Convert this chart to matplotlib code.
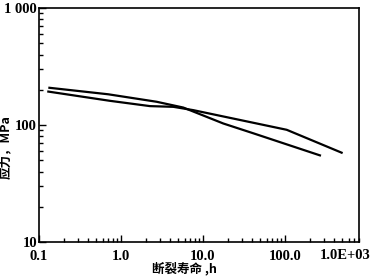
import matplotlib
matplotlib.use("Agg")
import matplotlib.pyplot as plt
from matplotlib.ticker import FixedLocator, LogLocator, NullFormatter

line1_x = [0.134, 0.70, 2.72, 5.75, 17.7, 41, 267]
line1_y = [208, 183, 158, 141, 103, 85, 55]
line2_x = [0.13, 0.73, 2.26, 4.35, 7.6, 105, 491]
line2_y = [193, 161, 145, 143, 134, 91, 58]

xticks = [0.1, 1, 10, 100]
xticklabels = ["0.1", "1.0", "10.0", "100.0"]
last_xtick = 1000
last_xticklabel = "1.0E+03"
yticks = [10, 100, 1000]
yticklabels = ["10", "100", "1 000"]

plt.rcParams['font.family'] = ['Liberation Serif', 'Noto Sans CJK SC']

fig = plt.figure(figsize=(3.7, 2.78), dpi=100)
ax = fig.add_axes([39/370, 36/278, 320/370, 234/278])
ax.plot(line1_x, line1_y, color='black', lw=1.6)
ax.plot(line2_x, line2_y, color='black', lw=1.6)
ax.set_xscale('log')
ax.set_yscale('log')
ax.set_xlim(0.1, 800)
ax.set_ylim(10, 1000)
ax.xaxis.set_major_locator(FixedLocator(xticks))
ax.set_xticklabels(xticklabels, fontsize=10.5, fontweight='bold')
ax.yaxis.set_major_locator(FixedLocator(yticks))
ax.set_yticklabels(yticklabels, fontsize=10.5, fontweight='bold')
ax.xaxis.set_minor_locator(LogLocator(base=10, subs=range(2, 10)))
ax.yaxis.set_minor_locator(LogLocator(base=10, subs=range(2, 10)))
ax.xaxis.set_minor_formatter(NullFormatter())
ax.yaxis.set_minor_formatter(NullFormatter())
ax.tick_params(which='both', direction='in', top=False, right=False, width=1)
ax.tick_params(which='major', length=5)
ax.tick_params(axis='x', which='major', pad=5.5)
ax.tick_params(axis='y', which='major', pad=1.5)
ax.tick_params(which='minor', length=3)
for s in ax.spines.values():
    s.set_linewidth(1.2)

ax.annotate(last_xticklabel, xy=(last_xtick, 0), xycoords=('data', 'axes fraction'),
            xytext=(-16, -10), textcoords='offset points', ha='center', va='center',
            fontsize=10.5, fontweight='bold', annotation_clip=False)

ax.set_xlabel("断裂寿命 ,h", fontsize=9, fontweight='bold',
              family=['Noto Sans CJK SC', 'Liberation Serif'])
ax.xaxis.set_label_coords(0.453, -0.085)
ax.set_ylabel("应力，MPa", fontsize=9, fontweight='bold',
              family=['Noto Sans CJK SC', 'Liberation Serif'])
ax.yaxis.set_label_coords(-0.084, 0.406)
fig.savefig("out.png", dpi=100)
